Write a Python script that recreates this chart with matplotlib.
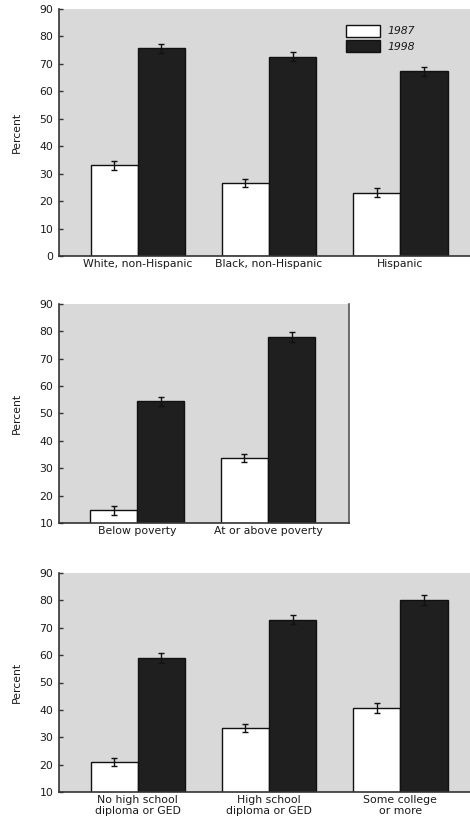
import matplotlib
matplotlib.use("Agg")
import matplotlib.pyplot as plt
import numpy as np
from matplotlib.patches import Patch

plt.rcParams['font.family'] = ['DejaVu Sans']

series_labels = ["1987", "1998"]

race_cats = ["White, non-Hispanic", "Black, non-Hispanic", "Hispanic"]
race_1987 = [33.0, 26.7, 23.1]
race_1998 = [75.7, 72.6, 67.3]
race_err_1987 = [1.5, 1.5, 1.5]
race_err_1998 = [1.7, 1.7, 1.7]

pov_cats = ["Below poverty", "At or above poverty"]
pov_1987 = [14.6, 33.8]
pov_1998 = [54.4, 77.9]
pov_err_1987 = [1.5, 1.5]
pov_err_1998 = [1.7, 1.7]

edu_cats = ["No high school\ndiploma or GED", "High school\ndiploma or GED", "Some college\nor more"]
edu_1987 = [21.0, 33.5, 40.7]
edu_1998 = [59.0, 73.0, 80.2]
edu_err_1987 = [1.5, 1.5, 1.7]
edu_err_1998 = [1.7, 1.7, 1.8]

W, H = 470, 825
fig = plt.figure(figsize=(W / 100, H / 100), dpi=100)
fig.patch.set_facecolor("white")

BG = "#d9d9d9"
DARK = "#1f1f1f"
TXT = "#1a1a1a"
FS = 7.8
bw = 0.36


def px_axes(left, top, right, bottom):
    return fig.add_axes([left / W, 1 - bottom / H, (right - left) / W, (bottom - top) / H])


def panel(ax, cats, v87, v98, e87, e98, ymin, xlim, right_spine):
    x = np.arange(len(cats))
    ax.set_facecolor(BG)
    ax.bar(x - bw / 2, v87, width=bw, color="white",
           edgecolor="#111111", linewidth=1.0, zorder=2)
    ax.bar(x + bw / 2, v98, width=bw, color=DARK, edgecolor="#111111", linewidth=1.0, zorder=2)
    ax.errorbar(x - bw / 2, v87, yerr=e87, fmt="none", ecolor="#111111", elinewidth=1.0,
                capsize=2.5, capthick=1.0, zorder=3)
    ax.errorbar(x + bw / 2, v98, yerr=e98, fmt="none", ecolor="#111111", elinewidth=1.0,
                capsize=2.5, capthick=1.0, zorder=3)
    ax.set_ylim(ymin, 90)
    ax.set_xlim(*xlim)
    ax.set_yticks(np.arange(ymin, 91, 10))
    ax.set_xticks(x)
    ax.set_xticklabels(cats, fontsize=FS, color=TXT, linespacing=1.1)
    ax.tick_params(axis="y", labelsize=FS, labelcolor=TXT, direction="in", length=3,
                   width=1.0, color="#333333", pad=4)
    ax.tick_params(axis="x", length=0, pad=2)
    ax.set_ylabel("Percent", fontsize=FS, color=TXT, labelpad=13)
    ax.spines["left"].set_color("#333333")
    ax.spines["left"].set_linewidth(1.2)
    ax.spines["bottom"].set_color("#333333")
    ax.spines["bottom"].set_linewidth(1.2)
    ax.spines["top"].set_visible(False)
    if right_spine:
        ax.spines["right"].set_color("#555555")
        ax.spines["right"].set_linewidth(1.2)
    else:
        ax.spines["right"].set_visible(False)


ax1 = px_axes(59, 9, 470, 256)
panel(ax1, race_cats, race_1987, race_1998, race_err_1987, race_err_1998, 0, (-0.6, 2.53), False)
handles = [Patch(facecolor="white", edgecolor="#111111", linewidth=1.0),
           Patch(facecolor=DARK, edgecolor="#111111", linewidth=1.0)]
leg = ax1.legend(handles, series_labels, loc="upper left", bbox_to_anchor=(0.675, 0.975),
                 frameon=False, fontsize=FS, handlelength=3.1, handleheight=1.3,
                 labelspacing=0.3, handletextpad=0.7)
for t in leg.get_texts():
    t.set_fontstyle("italic")
    t.set_color(TXT)

ax2 = px_axes(59, 304, 349, 523)
panel(ax2, pov_cats, pov_1987, pov_1998, pov_err_1987, pov_err_1998, 10, (-0.6, 1.62), True)

ax3 = px_axes(59, 573, 470, 792)
panel(ax3, edu_cats, edu_1987, edu_1998, edu_err_1987, edu_err_1998, 10, (-0.6, 2.53), False)

fig.savefig("out.png", dpi=100, facecolor="white")
